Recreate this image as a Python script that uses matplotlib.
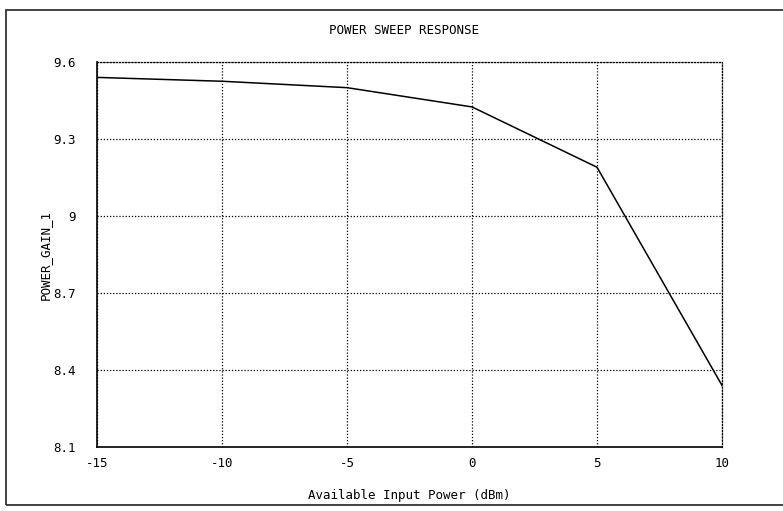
import matplotlib
matplotlib.use("Agg")
import matplotlib.pyplot as plt
from matplotlib.patches import Rectangle

plt.rcParams["axes.unicode_minus"] = False

# Power sweep data
input_power_dbm = [-15, -10, -5, 0, 5, 10]
power_gain = [9.54, 9.525, 9.50, 9.425, 9.19, 8.34]

x_ticks = [-15, -10, -5, 0, 5, 10]
y_ticks = [8.1, 8.4, 8.7, 9.0, 9.3, 9.6]
y_tick_labels = ["8.1", "8.4", "8.7", "9", "9.3", "9.6"]

W, H = 783, 511
fig = plt.figure(figsize=(W / 100, H / 100), dpi=100)
fig.patch.set_facecolor("white")

FS = 9

# outer page frame
fig.patches.append(Rectangle((6 / W, 1 - 505 / H), 1.0, (505 - 10) / H,
                             transform=fig.transFigure, fill=False,
                             edgecolor="#222222", linewidth=1.2))

ax = fig.add_axes([97 / W, 1 - 447 / H, (722 - 97) / W, (447 - 62) / H])
ax.plot(input_power_dbm, power_gain, color="black", linewidth=1.1)

ax.set_xlim(-15, 10)
ax.set_ylim(8.1, 9.6)
ax.set_xticks(x_ticks)
ax.set_yticks(y_ticks)
ax.set_yticklabels(y_tick_labels)
ax.tick_params(length=0, labelsize=FS)
ax.tick_params(axis="y", pad=15)
ax.tick_params(axis="x", pad=7)
for lbl in ax.get_xticklabels() + ax.get_yticklabels():
    lbl.set_family("DejaVu Sans Mono")

ax.grid(True, color="black", linestyle=(0, (1, 1.5)), linewidth=0.9)
for side in ("top", "right"):
    ax.spines[side].set_linestyle((0, (1, 1.5)))
    ax.spines[side].set_linewidth(0.9)
for side in ("left", "bottom"):
    ax.spines[side].set_linewidth(1.2)

ax.set_xlabel("Available Input Power (dBm)", fontsize=FS,
              family="DejaVu Sans Mono", labelpad=14)
ax.set_ylabel("POWER_GAIN_1", fontsize=FS, family="DejaVu Sans Mono",
              va="center")
ax.yaxis.set_label_coords((45 - 97) / 625, 0.5)
fig.text(404 / W, 1 - 30 / H, "POWER SWEEP RESPONSE", ha="center", va="center",
         fontsize=FS, family="DejaVu Sans Mono")

fig.savefig("out.png", dpi=100)
